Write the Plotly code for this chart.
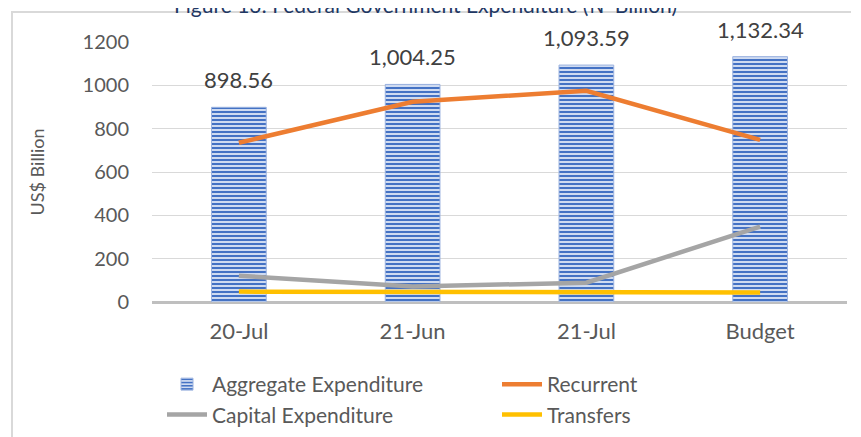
import plotly.graph_objects as go

categories = ["20-Jul", "21-Jun", "21-Jul", "Budget"]
aggregate = [898.56, 1004.25, 1093.59, 1132.34]
recurrent = [735, 924, 975, 748]
capital = [121, 72, 89, 348]
transfers = [48, 46, 45, 44]
agg_labels = ["898.56", "1,004.25", "1,093.59", "1,132.34"]
y_ticks = [0, 200, 400, 600, 800, 1000, 1200]

FONT = "Lato"
OFF = 8  # default page body margin
PAGE_W, PAGE_H = 861, 437
W, H = PAGE_W - OFF, PAGE_H - OFF
# plot area in page pixels: x 152..847, y 42..302
L, T = 152 - OFF, 42 - OFF
R = PAGE_W - 847
B = PAGE_H - 302
pw, ph = W - L - R, H - T - B

def px_x(page_x):
    return (page_x - OFF - L) / pw

def px_y(page_y):
    return (T + ph - (page_y - OFF)) / ph

fig = go.Figure()
fig.add_trace(go.Bar(
    x=categories, y=aggregate, name="Aggregate Expenditure", width=0.315,
    marker=dict(color="#4472C4",
                pattern=dict(shape="-", fgcolor="#4472C4", bgcolor="#dfe7f6",
                             size=4, solidity=0.55, fillmode="replace"),
                line=dict(color="#9db4e0", width=1)),
))
fig.add_trace(go.Scatter(x=categories, y=recurrent, name="Recurrent", mode="lines",
                         line=dict(color="#ED7D31", width=4.5)))
fig.add_trace(go.Scatter(x=categories, y=capital, name="Capital Expenditure", mode="lines",
                         line=dict(color="#A5A5A5", width=4.5)))
fig.add_trace(go.Scatter(x=categories, y=transfers, name="Transfers", mode="lines",
                         line=dict(color="#FFC000", width=4.5)))

for c, v, t in zip(categories, aggregate, agg_labels):
    fig.add_annotation(x=c, y=v, text=t, showarrow=False, yanchor="bottom", yshift=12,
                       font=dict(family=FONT, size=22, color="#404040"))

fig.add_annotation(xref="paper", yref="paper", x=px_x(425), y=px_y(19), yanchor="bottom",
                   xanchor="center", showarrow=False,
                   text="Figure 13: Federal Government Expenditure (₦' Billion)",
                   font=dict(family=FONT, size=21, color="#1F3864"))

fig.add_shape(type="path", xref="paper", yref="paper",
              path=f"M {px_x(12)} {px_y(437)} L {px_x(12)} {px_y(12)} L {px_x(851)} {px_y(12)}",
              line=dict(color="#D9D9D9", width=2))

fig.update_layout(
    width=W, height=H,
    margin=dict(l=L, r=R, t=T, b=B, pad=0, autoexpand=False),
    paper_bgcolor="white", plot_bgcolor="white",
    font=dict(family=FONT, size=20, color="#595959"),
    showlegend=True,
    legend=dict(orientation="h", x=px_x(162), y=px_y(364), xanchor="left", yanchor="top",
                entrywidth=280, entrywidthmode="pixels", traceorder="normal",
                font=dict(family=FONT, size=21, color="#595959"),
                itemwidth=40, tracegroupgap=0),
    bargap=0.5,
)
fig.update_xaxes(showgrid=False, showline=False, ticks="", ticklabelstandoff=14,
                 tickfont=dict(size=22, color="#595959"))
fig.update_yaxes(range=[0, 1200], tickvals=y_ticks, showgrid=True, gridcolor="#D9D9D9", gridwidth=1,
                 zeroline=True, zerolinecolor="#BFBFBF", zerolinewidth=3,
                 ticks="", ticklabelstandoff=22,
                 tickfont=dict(size=20, color="#595959"),
                 title=dict(text="US$ Billion", font=dict(family=FONT, size=18, color="#595959"), standoff=33))

fig.write_html("out.html")
